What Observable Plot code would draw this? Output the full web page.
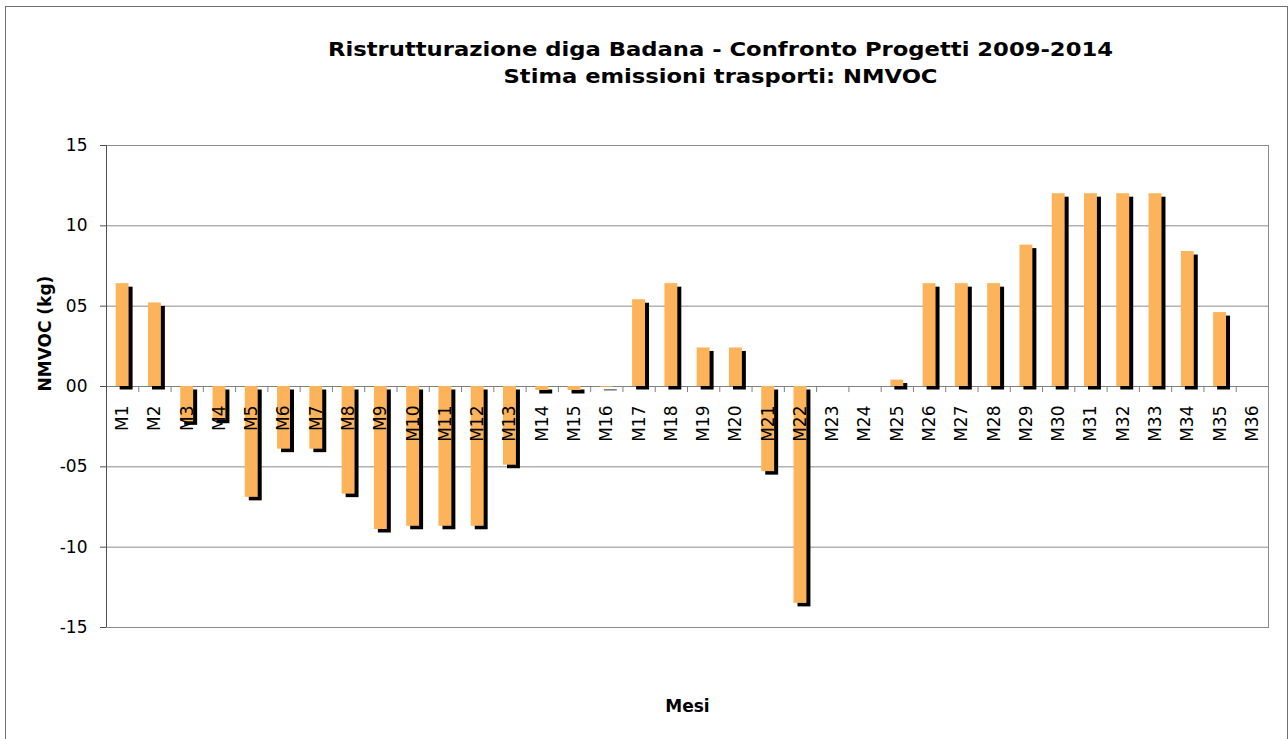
<!DOCTYPE html>
<html><head><meta charset="utf-8">
<script src="https://cdn.jsdelivr.net/npm/d3@7"></script>
<script src="https://cdn.jsdelivr.net/npm/@observablehq/plot@0.6"></script>
<style>
html,body{margin:0;padding:0;background:#fff;overflow:hidden;}
#wrap{position:relative;width:1288px;height:739px;overflow:hidden;}
#border{position:absolute;left:5px;top:6px;width:1283px;height:800px;border:1.5px solid #707070;box-sizing:border-box;pointer-events:none;}
</style></head><body><div id="wrap"><div id="chart"></div><div id="border"></div></div>
<script>
const months = ["M1","M2","M3","M4","M5","M6","M7","M8","M9","M10","M11","M12","M13","M14","M15","M16","M17","M18","M19","M20","M21","M22","M23","M24","M25","M26","M27","M28","M29","M30","M31","M32","M33","M34","M35","M36"];
const values = [6.4,5.2,-2.2,-2.1,-6.9,-3.9,-3.9,-6.7,-8.9,-8.7,-8.7,-8.7,-4.9,-0.25,-0.25,-0.05,5.4,6.4,2.4,2.4,-5.3,-13.5,0,0,0.4,6.4,6.4,6.4,8.8,12,12,12,12,8.4,4.6,0];
const yTicks = [-15,-10,-5,0,5,10,15];
const titleLines = ["Ristrutturazione diga Badana - Confronto Progetti 2009-2014","Stima emissioni trasporti: NMVOC"];
const yLabel = "NMVOC (kg)";
const xLabel = "Mesi";

const data = months.map((m,i)=>({month:m, value:values[i]}));
const W=1288,H=739, mL=106, mR=20, mT=145, mB=112;
const step=(W-mL-mR)/months.length;
const fmt = d => (d<0?"-":"") + String(Math.abs(d)).padStart(2,"0");

const chart = Plot.plot({
  width:W, height:H, marginLeft:mL, marginRight:mR, marginTop:mT, marginBottom:mB,
  style:{fontFamily:"DejaVu Sans, Verdana, sans-serif", fontSize:"17px", background:"white", color:"black", overflow:"visible"},
  x:{type:"band", domain:months, paddingInner:0.6, paddingOuter:0.3, round:false, axis:null},
  y:{domain:[-15,15], axis:null},
  marks:[
    Plot.gridY(yTicks, {stroke:"#8c8c8c", strokeOpacity:1}),
    Plot.frame({stroke:"#8c8c8c"}),
    Plot.ruleY([0], {stroke:"#808080"}),
    Plot.ruleX(months, {x:d=>d, dx:-step/2, y1:0, y2:-0.38, stroke:"#808080"}),
    Plot.ruleX([months[0]], {x:d=>d, dx:-step/2, y1:-15, y2:15, stroke:"#505050"}),
    Plot.axisY(yTicks, {tickSize:6, tickPadding:13, tickFormat:fmt, stroke:"#505050", fill:"black", fontSize:17, label:null}),
    Plot.barY(data, {x:"month", y:"value", fill:"black", dx:4, dy:3.5}),
    Plot.barY(data, {x:"month", y:"value", fill:"#FCB35A"}),
    Plot.text(months, {x:d=>d, y:()=>0, text:d=>d, rotate:-90, textAnchor:"end", lineAnchor:"middle", dy:19, fill:"black"}),
    Plot.text([titleLines[0]], {frameAnchor:"top", text:d=>d, dx:33, dy:-96, lineAnchor:"middle", fontWeight:"bold", fontSize:19, fill:"black", className:"t1"}),
    Plot.text([titleLines[1]], {frameAnchor:"top", text:d=>d, dx:33, dy:-69, lineAnchor:"middle", fontWeight:"bold", fontSize:19, fill:"black", className:"t2"}),
    Plot.text([yLabel], {frameAnchor:"left", text:d=>d, dx:-61, dy:5, rotate:-90, lineAnchor:"middle", fontWeight:"bold", fontSize:17, fill:"black"}),
    Plot.text([xLabel], {frameAnchor:"bottom", text:d=>d, dy:79, lineAnchor:"middle", fontWeight:"bold", fontSize:17, fill:"black"})
  ]
});
document.getElementById("chart").appendChild(chart);
const fit = (cls, len) => chart.querySelectorAll("g." + cls + " text").forEach(t => { t.setAttribute("textLength", len); t.setAttribute("lengthAdjust", "spacingAndGlyphs"); });
fit("t1", 785); fit("t2", 434);
</script></body></html>
